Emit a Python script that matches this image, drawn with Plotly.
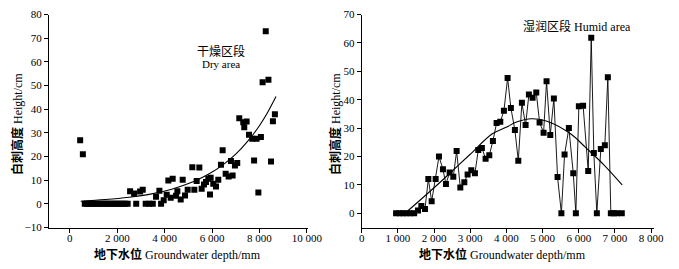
import plotly.graph_objects as go

# ---- Dry area (left) ----
dry_x = [435, 549,
         630, 720, 810, 900, 990, 1080, 1170, 1260, 1350, 1440, 1530, 1620, 1710, 1800,
         1890, 1980, 2070, 2160, 2250, 2340, 2440,
         2800, 3200, 3350, 3500, 3850,
         2542, 2711, 2964, 3076,
         3638, 3779, 3960, 4087, 4157, 4256, 4340, 4481, 4537, 4678, 4762, 4860, 4973,
         5168, 5253, 5352, 5464, 5563, 5661, 5745, 5843, 5914, 5942, 6053, 6167, 6264,
         6377, 6448, 6575, 6701, 6799, 6869, 6967, 7064,
         7150, 7318, 7460, 7360, 7560, 7698, 7881, 8063, 7775, 7955, 8490, 8134, 8380,
         8267, 8653, 8569]
dry_y = [26.9, 20.9,
         0, 0, 0, 0, 0, 0, 0, 0, 0, 0, 0, 0, 0, 0,
         0, 0, 0, 0, 0, 0, 0,
         0, 0, 0, 0, 0,
         5.3, 4.4, 5.2, 5.9,
         3.0, 5.5, 1.5, 3.8, 9.9, 2.6, 10.6, 3.4, 5.3, 1.8, 10.2, 3.5, 5.9,
         15.5, 5.9, 9.6, 15.3, 6.4, 8.2, 9.2, 10.6, 3.9, 11.0, 8.5, 7.3, 10.2,
         16.5, 22.6, 12.7, 11.6, 18.1, 12.0, 16.2, 17.3,
         36.2, 34.5, 34.8, 32.4, 29.2, 27.5, 27.5, 28.2, 18.3, 4.8, 17.9, 51.4, 52.4,
         72.9, 37.8, 34.9]
dry_fit_x = [460, 1500, 2500, 3400, 4300, 5200, 5900, 6500, 7000, 7500, 8000, 8350, 8700]
dry_fit_y = [1.1, 1.8, 2.8, 4.1, 6.2, 9.3, 12.8, 16.8, 21.0, 26.4, 33.0, 38.7, 45.3]

# ---- Humid area (right) ----
humid_x = [950, 1050, 1140, 1240, 1340, 1450, 1556, 1649, 1749, 1842, 1934, 2044, 2136,
           2246, 2329, 2431, 2532, 2624, 2726, 2837, 2928, 3030, 3130, 3223, 3323, 3425,
           3527, 3627, 3729, 3831, 3931, 4033, 4124, 4235, 4329, 4428, 4530, 4622, 4724,
           4826, 4917, 5028, 5110, 5213, 5312, 5414, 5520, 5608, 5727, 5848, 5920, 6003,
           6120, 6262, 6345, 6417, 6500, 6610, 6721, 6804, 6887, 6970, 7052, 7190]
humid_y = [0, 0, 0, 0, 0, 0, 1.0, 2.6, 1.5, 12.1, 4.2, 12.1, 20.0,
           15.5, 10.3, 14.4, 12.9, 21.9, 9.1, 10.9, 13.7, 15.2, 14.1, 22.3, 23.0, 19.2,
           20.4, 25.5, 31.8, 32.2, 36.1, 47.6, 37.1, 29.3, 18.5, 38.9, 31.1, 41.8, 40.7,
           42.5, 32.0, 28.4, 46.5, 27.6, 40.4, 12.8, 0, 20.7, 30.0, 14.1, 0, 37.7,
           37.9, 14.9, 61.8, 21.2, 0, 22.6, 24.0, 47.9, 0, 0, 0, 0]
humid_fit_x = [1215, 2000, 2505, 3000, 3610, 3978, 4300, 4690, 5100, 5773, 6188, 6700, 7200]
humid_fit_y = [0.2, 9.0, 14.9, 20.8, 28.0, 30.2, 32.2, 33.3, 32.5, 28.0, 23.2, 17.0, 10.0]

left_xticks = [0, 2000, 4000, 6000, 8000, 10000]
left_xtext = ["0", "2 000", "4 000", "6 000", "8 000", "10 000"]
left_yticks = [-10, 0, 10, 20, 30, 40, 50, 60, 70, 80]
right_xticks = [0, 1000, 2000, 3000, 4000, 5000, 6000, 7000, 8000]
right_xtext = ["0", "1 000", "2 000", "3 000", "4 000", "5 000", "6 000", "7 000", "8 000"]
right_yticks = [0, 10, 20, 30, 40, 50, 60, 70]

SERIF = "Liberation Serif, Times New Roman, Noto Sans CJK SC"
MIX = "Liberation Serif, Noto Sans CJK SC"

fig = go.Figure()
fig.add_trace(go.Scatter(x=dry_x, y=dry_y, mode="markers",
                         marker=dict(symbol="square", size=6, color="black"),
                         xaxis="x", yaxis="y", showlegend=False))
fig.add_trace(go.Scatter(x=dry_fit_x, y=dry_fit_y, mode="lines", line_shape="spline",
                         line=dict(color="black", width=1.1),
                         xaxis="x", yaxis="y", showlegend=False))
fig.add_trace(go.Scatter(x=humid_x, y=humid_y, mode="lines+markers",
                         marker=dict(symbol="square", size=6, color="black"),
                         line=dict(color="black", width=0.9),
                         xaxis="x2", yaxis="y2", showlegend=False))
fig.add_trace(go.Scatter(x=humid_fit_x, y=humid_fit_y, mode="lines", line_shape="spline",
                         line=dict(color="black", width=1.1),
                         xaxis="x2", yaxis="y2", showlegend=False))

axis_common = dict(showgrid=False, zeroline=False, showline=True, linecolor="black",
                   linewidth=1, ticks="outside", ticklen=4, tickwidth=1, tickcolor="black",
                   mirror=False, tickfont=dict(family=SERIF, size=11, color="black"))

W, H = 679, 269
ydom = [1 - 227.5 / H, 1 - 14.5 / H]
fig.update_layout(
    width=W, height=H, margin=dict(l=0, r=0, t=0, b=0, autoexpand=False),
    paper_bgcolor="white", plot_bgcolor="white",
    xaxis=dict(domain=[49 / W, 308 / W], range=[-880, 10050], tickmode="array",
               tickvals=left_xticks, ticktext=left_xtext, anchor="y",
               ticklabelstandoff=-4, **axis_common),
    yaxis=dict(domain=ydom, range=[-10, 80], tickmode="array", tickvals=left_yticks,
               anchor="x", **axis_common),
    xaxis2=dict(domain=[361.7 / W, 654 / W], range=[0, 8080], tickmode="array",
                tickvals=right_xticks, ticktext=right_xtext, anchor="y2",
                ticklabelstandoff=-4, **axis_common),
    yaxis2=dict(domain=ydom, range=[-5, 70], tickmode="array", tickvals=right_yticks,
                anchor="x2", **axis_common),
)

def ann(text, x, y, size=12, angle=0):
    fig.add_annotation(text=text, x=x / W, y=1 - y / H, xref="paper", yref="paper",
                       showarrow=False, textangle=angle, xanchor="center", yanchor="middle",
                       font=dict(family=MIX, size=size, color="black"))

ann("<b>地下水位</b> Groundwater depth/mm", 177.5, 254)
ann("<b>地下水位</b> Groundwater depth/mm", 502.5, 254)
ann("<b>白刺高度</b> Height/cm", 18, 124, angle=-90)
ann("<b>白刺高度</b> Height/cm", 336, 124, angle=-90)
ann("干燥区段", 221, 51, size=12)
ann("Dry area", 221, 64, size=11)
ann("湿润区段 Humid area", 576.7, 27, size=12)

fig.write_html("out.html", config={"responsive": False, "displayModeBar": False},
               post_script="document.body.style.margin='0';document.body.style.padding='0';"
                           "document.body.style.overflow='hidden';")
